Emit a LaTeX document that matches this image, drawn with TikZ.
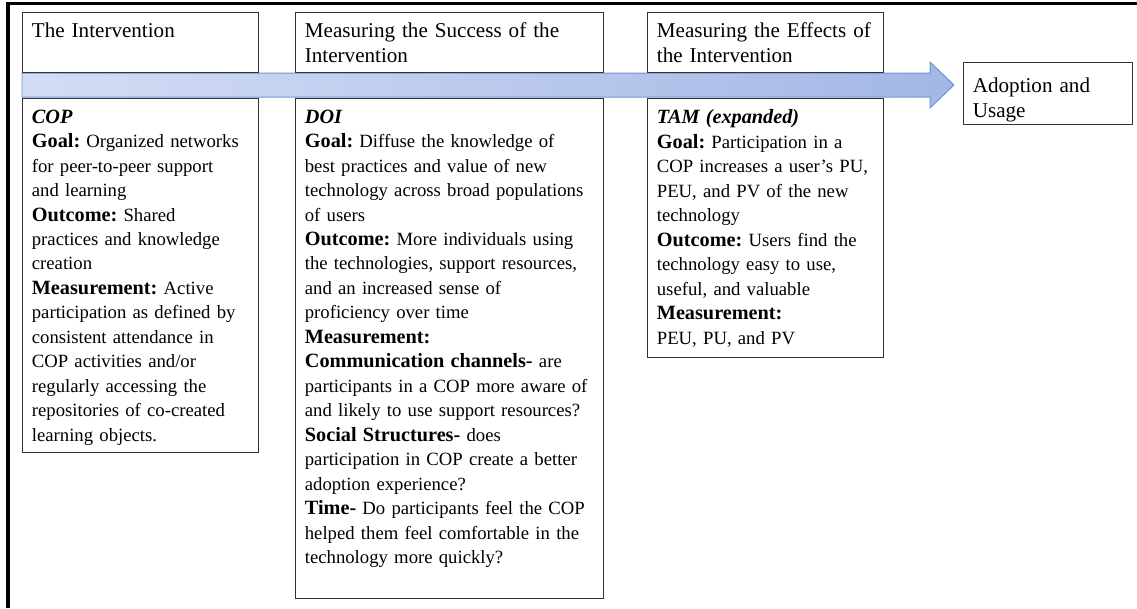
\documentclass[tikz,border=0pt]{standalone}
\usepackage{fontspec}
\setmainfont{Liberation Serif}
\usepackage{tikz}
\usetikzlibrary{positioning, arrows.meta}
\frenchspacing

\definecolor{bandL}{HTML}{D3DDF4}
\definecolor{bandR}{HTML}{A3B7E6}
\definecolor{bandE}{HTML}{7393D2}

\tikzset{
  cell/.style={draw=black!80, line width=0.6pt, fill=white, anchor=north west, inner sep=0pt},
  txt/.style={anchor=north west, align=left, inner xsep=0.24cm},
  headtxt/.style={txt, inner ysep=0.27cm, font=\fontsize{15}{17.8}\selectfont},
  bodytxt/.style={txt, inner ysep=0.29cm, font=\fontsize{13.3}{17.4}\selectfont}
}
\newcommand{\theory}[1]{{\fontsize{14.4}{17.4}\selectfont\textbf{\textit{#1}}}}
\newcommand{\lbl}[1]{{\fontsize{14.4}{17.4}\selectfont\textbf{#1}}}

\begin{document}
\begin{tikzpicture}[x=0.025cm, y=-0.025cm, >=Latex]
  \useasboundingbox (0,0) rectangle (1137,608);
  % page frame
  \draw[line width=2.2pt] (8,608) -- (8,3.5) -- (1137,3.5);

  % big arrow
  \shade[left color=bandL, right color=bandR, draw=bandE, line width=0.7pt]
    (22,73) -- (930,73) -- (930,62) -- (954,85) -- (930,108) -- (930,97) -- (22,97) -- cycle;

  % column headers
  \node[cell, minimum width=5.9cm, minimum height=1.5cm] (intro) at (22,12) {};
  \node[headtxt, text width=5.9cm] (intro-t) at (intro.north west) {The Intervention};
  \node[cell, minimum width=7.7cm, minimum height=1.5cm] (succ) at (295,12) {};
  \node[headtxt, text width=7.7cm] (succ-t) at (succ.north west) {Measuring the Success of the\\Intervention};
  \node[cell, minimum width=5.9cm, minimum height=1.5cm] (eff) at (647,12) {};
  \node[headtxt, text width=5.9cm] (eff-t) at (eff.north west) {Measuring the Effects of\\the Intervention};
  \node[cell, minimum width=4.225cm, minimum height=1.55cm] (adopt) at (963,62) {};
  \node[headtxt, inner ysep=0.4cm, text width=4.2cm] (adopt-t) at (adopt.north west) {Adoption and\\Usage};

  % column bodies
  \node[cell, minimum width=5.9cm, minimum height=8.85cm, below=0.625cm of intro.south west, anchor=north west] (cop) {};
  \node[bodytxt, text width=5.9cm] (cop-t) at (cop.north west) {\theory{COP}\\
    \lbl{Goal:} Organized networks\\for peer-to-peer support\\and learning\\
    \lbl{Outcome:} Shared\\practices and knowledge\\creation\\
    \lbl{Measurement:} Active\\participation as defined by\\consistent attendance in\\COP activities and/or\\regularly accessing the\\repositories of co-created\\learning objects.};

  \node[cell, minimum width=7.7cm, minimum height=12.5cm, below=0.625cm of succ.south west, anchor=north west] (doi) {};
  \node[bodytxt, text width=7.7cm] (doi-t) at (doi.north west) {\theory{DOI}\\
    \lbl{Goal:} Diffuse the knowledge of\\best practices and value of new\\technology across broad populations\\of users\\
    \lbl{Outcome:} More individuals using\\the technologies, support resources,\\and an increased sense of\\proficiency over time\\
    \lbl{Measurement:}\\
    \lbl{Communication channels-} are\\participants in a COP more aware of\\and likely to use support resources?\\
    \lbl{Social Structures-} does\\participation in COP create a better\\adoption experience?\\
    \lbl{Time-} Do participants feel the COP\\helped them feel comfortable in the\\technology more quickly?};

  \node[cell, minimum width=5.9cm, minimum height=6.475cm, below=0.625cm of eff.south west, anchor=north west] (tam) {};
  \node[bodytxt, text width=5.9cm] (tam-t) at (tam.north west) {\theory{TAM (expanded)}\\
    \lbl{Goal:} Participation in a\\COP increases a user’s PU,\\PEU, and PV of the new\\technology\\
    \lbl{Outcome:} Users find the\\technology easy to use,\\useful, and valuable\\
    \lbl{Measurement:}\\PEU, PU, and PV};
\end{tikzpicture}
\end{document}
